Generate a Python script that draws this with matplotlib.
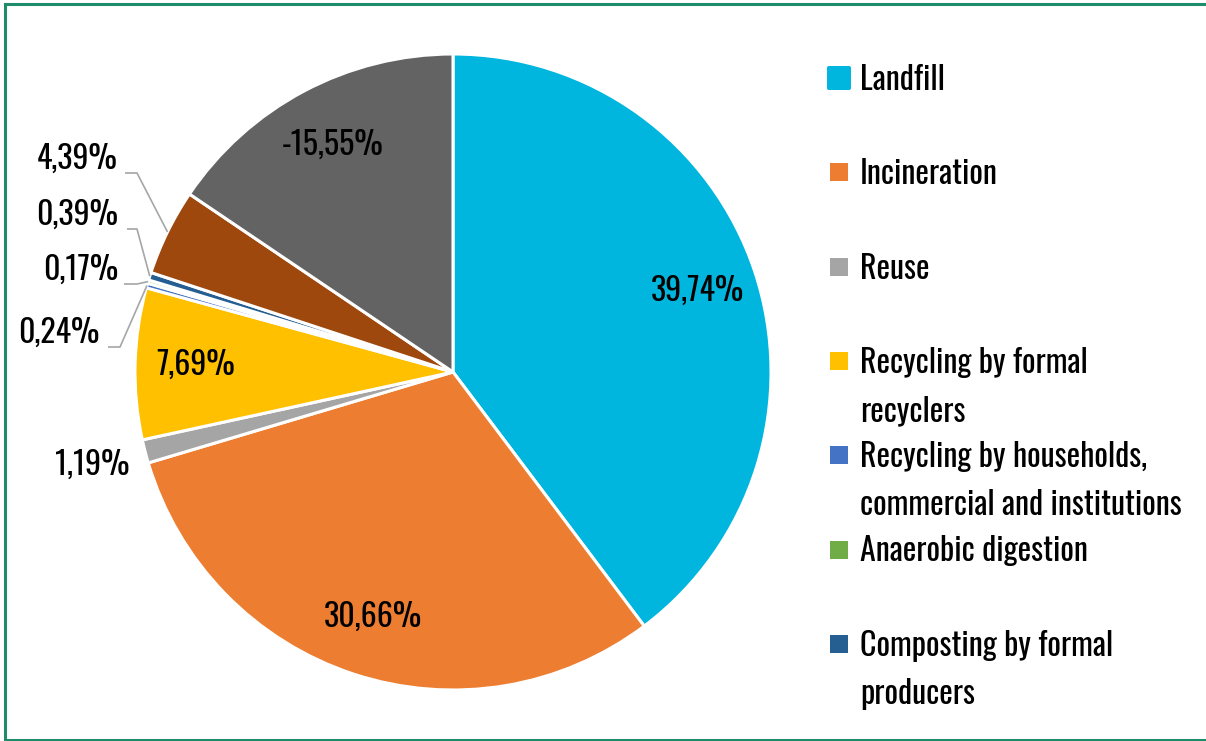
import matplotlib
matplotlib.use("Agg")
import numpy as np
import matplotlib.pyplot as plt
from matplotlib.patches import Rectangle, FancyBboxPatch
from matplotlib.lines import Line2D

# ---- data -------------------------------------------------------------
categories = [
    "Landfill",
    "Incineration",
    "Reuse",
    "Recycling by formal\nrecyclers",
    "Recycling by households,\ncommercial and institutions",
    "Anaerobic digestion",
    "Composting by formal\nproducers",
    "Other treatment",
    "Net stock change",
]
values = [39.74, 30.66, 1.19, 7.69, 0.24, 0.17, 0.39, 4.39, 15.55]
value_labels = ["39,74%", "30,66%", "1,19%", "7,69%", "0,24%", "0,17%",
                "0,39%", "4,39%", "-15,55%"]
colors = ["#00B6DE", "#ED7D31", "#A5A5A5", "#FFC000", "#4472C4",
          "#70AD47", "#255E91", "#9E480E", "#636363"]
legend_count = 7

plt.rcParams["font.family"] = ["Oswald", "Roboto Condensed", "Barlow Condensed", "DejaVu Sans"]
FW = "normal"

W, H = 1206, 741
fig = plt.figure(figsize=(W / 100, H / 100), dpi=100)
ax = fig.add_axes([0, 0, 1, 1])
ax.axis("off")


def py(y):
    """Convert a top-down pixel row to the axis' upward y."""
    return H - y


cx, cy, R = 453, py(372), 318
explode = [0.012] + [0] * (len(values) - 1)
wedges, _ = ax.pie(values, colors=colors, startangle=90, counterclock=False,
                   center=(cx, cy), radius=R, explode=explode,
                   wedgeprops=dict(edgecolor="white", linewidth=2.2))
ax.set_xlim(0, W)
ax.set_ylim(0, H)
ax.set_aspect("equal")

fs = 23
mids = [np.deg2rad((w.theta1 + w.theta2) / 2) for w in wedges]

# labels inside the larger slices
for i in (0, 1, 3, 8):
    r = 0.81 * R
    ax.text(cx + r * np.cos(mids[i]), cy + r * np.sin(mids[i]), value_labels[i],
            ha="center", va="center", fontsize=fs, fontweight=FW, color="black")

# reuse label just outside its slice
r = 1.17 * R
ax.text(cx + r * np.cos(mids[2]), cy + r * np.sin(mids[2]), value_labels[2],
        ha="center", va="center", fontsize=fs, fontweight=FW, color="black")

# small slices with leader lines: (index, text right edge, line row, line start, elbow)
leaders = [
    (7, 118, 173, 125, 137),
    (6, 118, 229, 127, 137),
    (5, 118, 284, 124, 137),
    (4, 100, 347, 108, 120),
]
for i, xr, yl, x0, x1 in leaders:
    ex = cx + R * np.cos(mids[i])
    ey = cy + R * np.sin(mids[i])
    ax.plot([x0, x1, ex], [py(yl), py(yl), ey], color="#A6A6A6", lw=1.2,
            solid_capstyle="butt", zorder=1)
    ax.text(xr, py(yl) + 4, value_labels[i], ha="right", va="baseline",
            fontsize=fs, fontweight=FW, color="black")

# ---- legend -----------------------------------------------------------
leg_top = 78
leg_step = 94.3
line_pitch = 48
for k in range(legend_count):
    yc = leg_top + k * leg_step
    if k == 0:
        sq = 24
        ax.add_patch(FancyBboxPatch((839 - sq / 2 + 2, py(yc) - sq / 2 + 2), sq - 4, sq - 4,
                                    boxstyle="round,pad=2", facecolor=colors[k],
                                    edgecolor="none"))
    else:
        sq = 18
        ax.add_patch(Rectangle((830, py(yc) - sq / 2), sq, sq,
                               facecolor=colors[k], edgecolor="none"))
    for j, line in enumerate(categories[k].split("\n")):
        ax.text(860, py(yc + 12 + j * line_pitch), line, ha="left", va="baseline",
                fontsize=fs, fontweight=FW, color="black")

# ---- frame ------------------------------------------------------------
border = "#1E8C6A"
for xs, ys in (([5, 5], [py(4), py(740)]),
               ([5, W + 5], [py(4), py(4)]),
               ([5, W + 5], [py(740), py(740)])):
    fig.add_artist(Line2D(np.array(xs) / W, np.array(ys) / H, color=border, lw=2.2,
                          transform=fig.transFigure))

fig.savefig("out.png", dpi=100, facecolor="white")
